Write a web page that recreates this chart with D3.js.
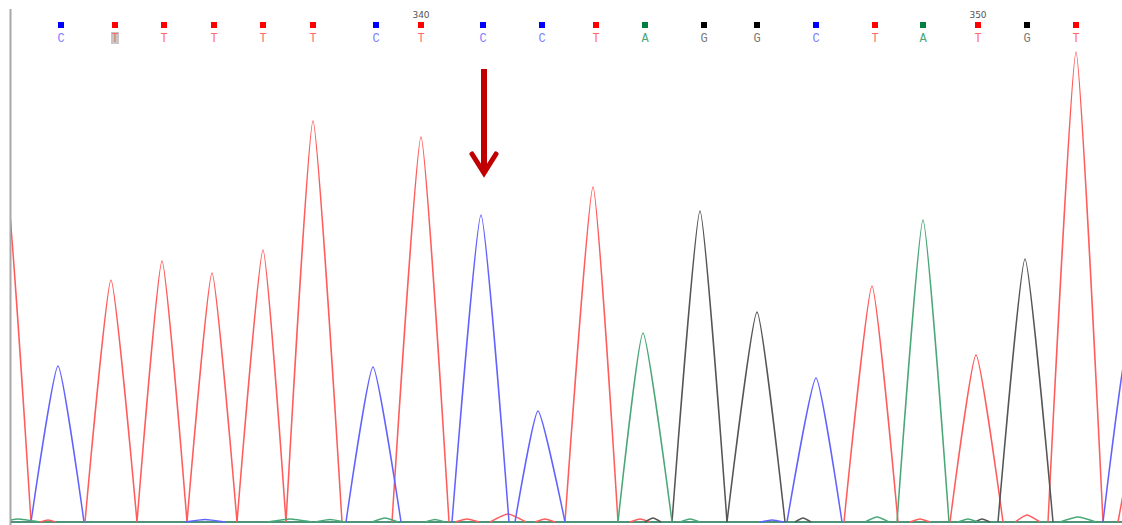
<!DOCTYPE html>
<html>
<head>
<meta charset="utf-8">
<script src="https://cdn.jsdelivr.net/npm/d3@7"></script>
<style>
  html, body { margin: 0; padding: 0; background: #fff; overflow: hidden; }
</style>
</head>
<body>
<div id="chart"></div>
<script>
// base calls shown in the window
const bases = ["C","T","T","T","T","T","C","T","C","C","T","A","G","G","C","T","A","T","G","T"];
// call positions (scan units)
const basePos = [61,115,164,214,263,313,376,421,483,542,596,645,704,757,816,875,923,978,1027,1076];
const firstBase = 333;
const highlighted = [1];   // index of the greyed call
const markedBase = 8;      // call pointed at by the arrow

// peaks per channel: [start, apex, end, signal]
const peaksC = [
  [31, 58, 84, 312], [346, 373, 401, 310], [452, 481, 509, 614], [515, 538, 565, 222],
  [787, 816, 842, 288], [1103, 1130, 1157, 380],
  [185, 205, 225, 5], [760, 772, 784, 4]
];
const peaksT = [
  [-23, 4, 31, 724], [85, 111, 137, 484], [137, 162, 187, 522], [187, 212, 237, 498],
  [237, 263, 286, 544], [286, 313, 342, 802], [392, 421, 449, 770], [565, 593, 618, 670],
  [844, 872, 898, 472], [950, 976, 1003, 334], [1048, 1076, 1103, 940], [1118, 1140, 1165, 200],
  [455, 467, 479, 6], [490, 508, 526, 16], [535, 545, 555, 6], [630, 640, 650, 6],
  [910, 920, 930, 6], [1015, 1027, 1040, 14], [40, 48, 56, 4]
];
const peaksA = [
  [618, 643, 672, 378], [897, 923, 949, 604],
  [0, 18, 40, 6], [268, 290, 312, 6], [315, 330, 345, 5], [372, 385, 398, 8],
  [425, 435, 445, 5], [680, 690, 700, 6], [865, 877, 889, 10], [958, 968, 978, 6],
  [1060, 1078, 1096, 10]
];
const peaksG = [
  [672, 700, 727, 622], [727, 757, 785, 420], [998, 1025, 1053, 526],
  [645, 653, 661, 8], [795, 803, 811, 8], [975, 982, 990, 6]
];

const width = 1122;
const height = 525;

const channels = [
  { base: "T", peaks: peaksT, trace: "#ff5c5c", mark: "#ff0000", text: "#ff6a6a" },
  { base: "C", peaks: peaksC, trace: "#6262ff", mark: "#0000ff", text: "#7d7dff" },
  { base: "G", peaks: peaksG, trace: "#555555", mark: "#000000", text: "#7a7a7a" },
  { base: "A", peaks: peaksA, trace: "#4aa878", mark: "#008040", text: "#4aa777" }
];
const byBase = Object.fromEntries(channels.map((c) => [c.base, c]));

const svg = d3.select("#chart")
  .append("svg")
  .attr("width", width)
  .attr("height", height)
  .attr("viewBox", [0, 0, width, height]);

const x = d3.scaleLinear().domain([10, 1122]).range([10, 1122]);
const y = d3.scaleLinear().domain([0, 1000]).range([522, 22]);

svg.append("defs").append("clipPath")
  .attr("id", "plot")
  .append("rect")
  .attr("x", 11).attr("y", 0)
  .attr("width", width - 11).attr("height", 525);

// left frame line
svg.append("line")
  .attr("x1", 10.5).attr("x2", 10.5)
  .attr("y1", 9).attr("y2", height)
  .attr("stroke", "#a8a8a8")
  .attr("stroke-width", 2);

const line = d3.line()
  .x((d) => x(d[0]))
  .y((d) => y(d[1]))
  .curve(d3.curveCardinal.tension(0.5));

const traces = svg.append("g").attr("clip-path", "url(#plot)");

// baselines first, so the peaks sit on top of them
traces.append("g")
  .selectAll("line")
  .data(channels)
  .join("line")
  .attr("x1", x(10)).attr("x2", x(1122))
  .attr("y1", y(0)).attr("y2", y(0))
  .attr("stroke", (c) => c.trace)
  .attr("stroke-width", 1.5);

channels.forEach((c) => {
  traces.append("g")
    .attr("fill", "none")
    .attr("stroke", c.trace)
    .attr("stroke-width", 1.5)
    .selectAll("path")
    .data(c.peaks)
    .join("path")
    .attr("d", (p) => line([[p[0], 0], [p[1], p[3]], [p[2], 0]]));
});

// base call row
const calls = svg.append("g");

calls.selectAll("rect.hl")
  .data(highlighted)
  .join("rect")
  .attr("class", "hl")
  .attr("x", (i) => x(basePos[i]) - 4)
  .attr("y", 32)
  .attr("width", 8)
  .attr("height", 12)
  .attr("fill", "#c6c6c6");

calls.selectAll("rect.mk")
  .data(bases)
  .join("rect")
  .attr("class", "mk")
  .attr("x", (d, i) => x(basePos[i]) - 3)
  .attr("y", 22)
  .attr("width", 6)
  .attr("height", 6)
  .attr("fill", (d) => byBase[d].mark);

calls.selectAll("text.call")
  .data(bases)
  .join("text")
  .attr("class", "call")
  .attr("x", (d, i) => x(basePos[i]))
  .attr("y", 42)
  .attr("text-anchor", "middle")
  .attr("font-family", "Liberation Mono, monospace")
  .attr("font-size", 12)
  .attr("fill", (d) => byBase[d].text)
  .text((d) => d);

calls.selectAll("text.num")
  .data(bases.map((d, i) => i).filter((i) => (firstBase + i) % 10 === 0))
  .join("text")
  .attr("class", "num")
  .attr("x", (i) => x(basePos[i]))
  .attr("y", 18)
  .attr("text-anchor", "middle")
  .attr("font-family", "DejaVu Sans, sans-serif")
  .attr("font-size", 9)
  .attr("fill", "#555")
  .text((i) => firstBase + i);

// arrow pointing at the marked call
const ax = x(basePos[markedBase]) + 1;
const arrow = svg.append("g")
  .attr("stroke", "#c00000")
  .attr("fill", "none");
arrow.append("line")
  .attr("x1", ax).attr("x2", ax)
  .attr("y1", 69).attr("y2", 172)
  .attr("stroke-width", 6);
arrow.append("path")
  .attr("d", `M${ax - 12},154 L${ax},173 L${ax + 12},154`)
  .attr("stroke-width", 5)
  .attr("stroke-linecap", "round")
  .attr("stroke-linejoin", "miter");
</script>
</body>
</html>
